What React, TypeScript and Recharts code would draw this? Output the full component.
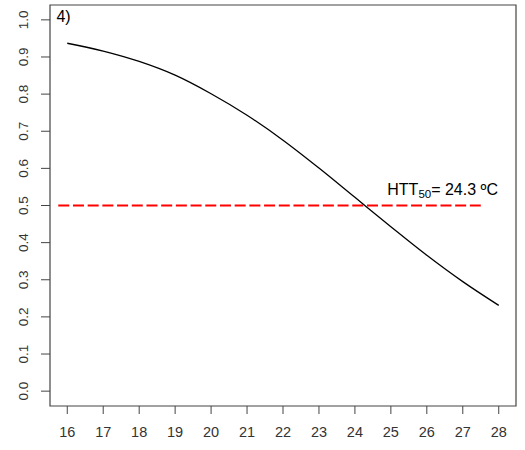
import React from "react";
import {
  ComposedChart,
  Line,
  XAxis,
  YAxis,
  ReferenceLine,
  ReferenceArea,
  ReferenceDot,
} from "recharts";

const temperatures = [16, 17, 18, 19, 20, 21, 22, 23, 24, 25, 26, 27, 28];
const probability = [0.937, 0.916, 0.888, 0.851, 0.801, 0.743, 0.676, 0.601, 0.522, 0.443, 0.366, 0.295, 0.231];
const xTicks = [16, 17, 18, 19, 20, 21, 22, 23, 24, 25, 26, 27, 28];
const yTicks = [0, 0.1, 0.2, 0.3, 0.4, 0.5, 0.6, 0.7, 0.8, 0.9, 1.0];
const htt50 = 24.3;
const cutoff = 0.5;
const panelLabel = "4)";

const data = temperatures.map((t, i) => ({ t, p: probability[i] }));

const FONT = "'Liberation Sans', Arial, sans-serif";

const YTick = (props: any) => {
  const { x, y, payload } = props;
  return (
    <text
      x={x}
      y={y}
      transform={`rotate(-90, ${x}, ${y})`}
      textAnchor="middle"
      fontSize={13.5}
      fill="#333"
      stroke="none"
      fontFamily={FONT}
    >
      {Number(payload.value).toFixed(1)}
    </text>
  );
};

const XTick = (props: any) => {
  const { x, y, payload } = props;
  return (
    <text x={x} y={y} dy="0.71em" textAnchor="middle" fontSize={14.5} fill="#333" stroke="none" fontFamily={FONT}>
      {payload.value}
    </text>
  );
};

export default function App() {
  return (
    <div style={{ position: "absolute", left: 0, top: 0, background: "#fff" }}>
      <ComposedChart
        width={525}
        height={450}
        data={data}
        margin={{ top: 5, right: 9, left: 0, bottom: 0 }}
      >
        <XAxis
          dataKey="t"
          type="number"
          domain={[15.52, 28.48]}
          ticks={xTicks}
          allowDataOverflow
          axisLine={false}
          tickLine={{ stroke: "#444" }}
          tickSize={8}
          tickMargin={13}
          height={44}
          tick={<XTick />}
        />
        <YAxis
          type="number"
          domain={[-0.04, 1.04]}
          ticks={yTicks}
          allowDataOverflow
          axisLine={false}
          tickLine={{ stroke: "#444" }}
          tickSize={9}
          tickMargin={13}
          width={50}
          tick={<YTick />}
        />
        <ReferenceArea
          x1={15.52}
          x2={28.48}
          y1={-0.04}
          y2={1.04}
          fill="none"
          fillOpacity={0}
          stroke="#444"
          strokeWidth={1.2}
          ifOverflow="visible"
        />
        <ReferenceLine
          segment={[
            { x: 15.75, y: cutoff },
            { x: 27.5, y: cutoff },
          ]}
          stroke="#ff0000"
          strokeWidth={2}
          strokeDasharray="11 3.7"
          ifOverflow="visible"
        />
        <Line
          type="monotone"
          dataKey="p"
          stroke="#000"
          strokeWidth={1.3}
          dot={false}
          isAnimationActive={false}
        />
        <ReferenceDot
          x={24.9}
          y={0.528}
          r={0}
          ifOverflow="visible"
          shape={(p: any) => (
            <text x={p.cx} y={p.cy} fontSize={16} fill="#000" stroke="none" fontFamily={FONT} textAnchor="start">
              HTT
              <tspan fontSize={11.5} dy={3} fill="#000">50</tspan>
              <tspan dy={-3} fill="#000">{`= ${htt50} ºC`}</tspan>
            </text>
          )}
        />
        <ReferenceDot
          x={15.7}
          y={0.994}
          r={0}
          ifOverflow="visible"
          shape={(p: any) => (
            <text x={p.cx} y={p.cy} fontSize={16} fill="#000" stroke="none" fontFamily={FONT} textAnchor="start">
              {panelLabel}
            </text>
          )}
        />
      </ComposedChart>
    </div>
  );
}
